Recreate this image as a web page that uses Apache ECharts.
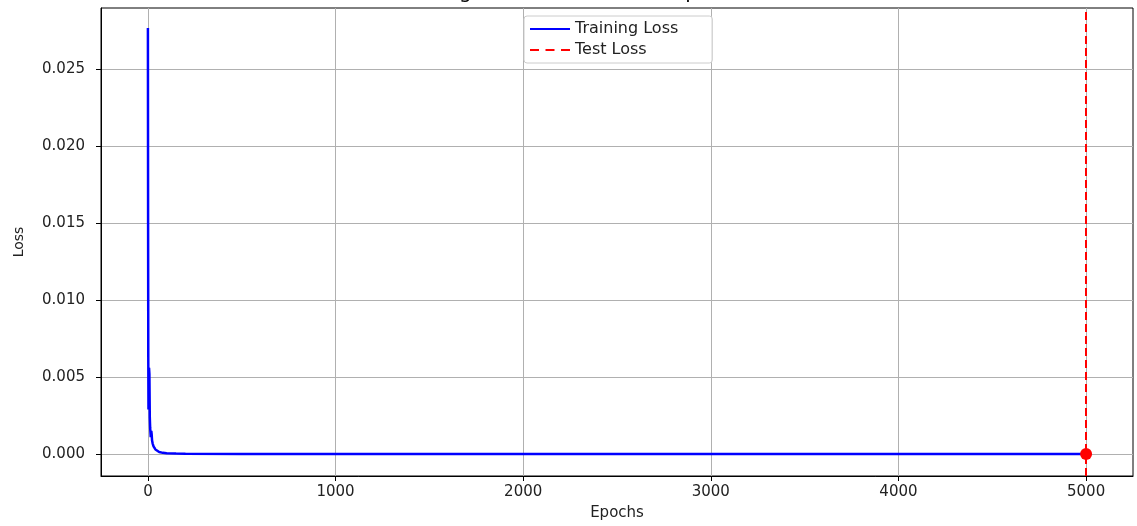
<!DOCTYPE html>
<html>
<head>
<meta charset="utf-8">
<script src="https://cdn.jsdelivr.net/npm/echarts@6/dist/echarts.min.js"></script>
<style>html,body{margin:0;padding:0;background:#fff}#c{width:1137px;height:526px}</style>
</head>
<body>
<div id="c"></div>
<script>
// Training loss: [epoch, loss] points
const trainEpochs = [0, 1, 2, 3, 4, 6, 8, 10, 12, 15, 18, 20, 22, 25, 30, 35, 40, 50, 60, 80, 100, 150, 200, 500, 1000, 2000, 3000, 4000, 4999];
const trainLoss = [0.0277, 0.0150, 0.0062, 0.0029, 0.0041, 0.0056, 0.0052, 0.0024, 0.0017, 0.0011, 0.0015, 0.0013, 0.0009, 0.0007, 0.0005, 0.00038, 0.0003, 0.0002, 0.00014, 0.00008, 0.00005, 0.00003, 0.00002, 0.00001, 0.000008, 0.000006, 0.000005, 0.000004, 0.000004];
// Test loss: evaluated once at the final epoch
const testEpoch = 5000;
const testLoss = 0.000004;
// Tick values
const xTicks = [0, 1000, 2000, 3000, 4000, 5000];
const yTicks = [0, 0.005, 0.010, 0.015, 0.020, 0.025];

const font = 'DejaVu Sans';
const trainData = trainEpochs.map((e, i) => [e, trainLoss[i]]);

const chart = echarts.init(document.getElementById('c'), null, {renderer: 'canvas'});
chart.setOption({
  animation: false,
  backgroundColor: '#fff',
  title: {
    text: 'Training and Test Loss Over Epochs',
    left: 'center',
    top: -22,
    textStyle: {fontFamily: font, fontSize: 20, fontWeight: 'normal', color: '#000'}
  },
  legend: {
    left: 524, top: 16,
    orient: 'vertical',
    itemWidth: 40, itemHeight: 14, itemGap: 5,
    padding: [5, 34, 5, 6],
    borderColor: '#cccccc', borderWidth: 1, borderRadius: 3,
    backgroundColor: 'rgba(255,255,255,0.8)',
    textStyle: {fontFamily: font, fontSize: 16, color: '#222'},
    data: [
      {name: 'Training Loss', icon: 'path://M0,0H40V2H0Z'},
      {name: 'Test Loss', icon: 'path://M0,0H9V2H0Z M15.5,0H24.5V2H15.5Z M31,0H40V2H31Z'}
    ]
  },
  grid: {left: 101, right: 4, top: 8, bottom: 48, show: true, borderColor: '#000', borderWidth: 1, backgroundColor: 'transparent'},
  xAxis: {
    type: 'value', min: -250, max: 5250,
    name: 'Epochs', nameLocation: 'middle', nameGap: 30,
    nameTextStyle: {fontFamily: font, fontSize: 15, color: '#222'},
    axisLine: {show: true, onZero: false, lineStyle: {color: '#000', width: 1}},
    axisTick: {show: true, length: 5, customValues: xTicks, lineStyle: {color: '#000'}},
    axisLabel: {customValues: xTicks, margin: 9, fontFamily: font, fontSize: 15, color: '#222',
      formatter: v => String(v)},
    splitLine: {show: true, lineStyle: {color: '#b0b0b0', width: 1}}
  },
  yAxis: {
    type: 'value', min: -0.001425, max: 0.029,
    name: 'Loss', nameLocation: 'middle', nameGap: 75,
    nameTextStyle: {fontFamily: font, fontSize: 14, color: '#222'},
    axisLine: {show: true, onZero: false, lineStyle: {color: '#000', width: 1}},
    axisTick: {show: true, length: 5, customValues: yTicks, lineStyle: {color: '#000'}},
    axisLabel: {customValues: yTicks, margin: 16, fontFamily: font, fontSize: 15, color: '#222',
      formatter: v => v.toFixed(3)},
    splitLine: {show: true, lineStyle: {color: '#b0b0b0', width: 1}}
  },
  series: [
    {
      name: 'Training Loss', type: 'line', data: trainData,
      showSymbol: false, symbol: 'none',
      lineStyle: {color: '#0000ff', width: 2.5},
      itemStyle: {color: '#0000ff'},
      z: 3
    },
    {
      name: 'Test Loss', type: 'line', data: [[testEpoch, testLoss]],
      symbol: 'none',
      lineStyle: {color: '#ff0000', width: 2, type: [8, 4]},
      itemStyle: {color: '#ff0000'},
      markLine: {
        silent: true, symbol: 'none', label: {show: false},
        lineStyle: {color: '#ff0000', width: 2, type: [8, 4]},
        data: [{xAxis: testEpoch}]
      },
      markPoint: {
        symbol: 'circle', symbolSize: 12, label: {show: false},
        itemStyle: {color: '#ff0000'},
        data: [{coord: [testEpoch, testLoss]}]
      },
      z: 4
    }
  ]
});
</script>
</body>
</html>
